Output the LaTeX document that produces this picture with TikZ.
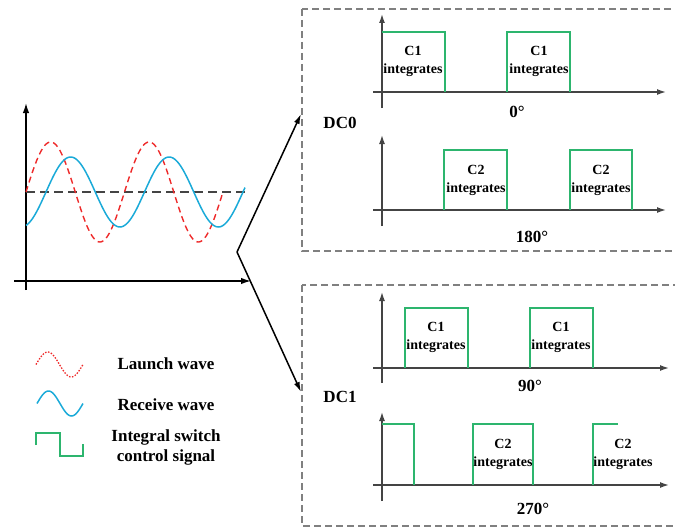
\documentclass[tikz,border=0pt]{standalone}
\usepackage{fontspec}
\setmainfont{Liberation Serif}
\usetikzlibrary{arrows.meta}
\definecolor{lred}{HTML}{EE2A2A}
\definecolor{lblue}{HTML}{1AAAD8}
\definecolor{lgreen}{HTML}{2DB56E}
\definecolor{axgray}{HTML}{444444}
\definecolor{boxgray}{HTML}{808080}
\tikzset{
  axis/.style={line width=1.4pt, axgray, -{Latex[length=9pt,width=6pt]}},
  mainaxis/.style={line width=1.5pt, black, -{Latex[length=10pt,width=6.5pt]}},
  pulse/.style={line width=1.4pt, lgreen},
  framebox/.style={draw=boxgray, line width=1.1pt, dash pattern=on 7pt off 4pt},
  ilabel/.style={font=\bfseries\fontsize{14}{18}\selectfont, align=center, inner sep=0pt},
  blabel/.style={font=\bfseries\fontsize{17}{20}\selectfont, align=center, inner sep=0pt},
  connector/.style={line width=1.5pt, black, -{Latex[length=10pt,width=6pt]}},
}
\begin{document}
\begin{tikzpicture}[x=1pt,y=-1pt]
\useasboundingbox (0,0) rectangle (675,527);

% ---------- left graph ----------
\draw[mainaxis] (26,290) -- (26,103);
\draw[mainaxis] (14,281) -- (251,281);
\draw[axgray, line width=2pt, dash pattern=on 9pt off 5pt] (26,192) -- (245,192);
\draw[lred, line width=1.4pt, dash pattern=on 6pt off 4pt]
  plot[domain=26:223, samples=150, smooth] (\x, {192-50*sin((\x-26)/98.5*360)});
\draw[lblue, line width=1.5pt]
  plot[domain=26:245, samples=150, smooth] (\x, {192-35*sin((\x-46)/98.5*360)});

% ---------- connectors ----------
\coordinate (v) at (237,252);
\coordinate (t0) at (301,114);
\coordinate (t1) at (301,392);
\draw[connector] (v) -- (t0);
\draw[connector] (v) -- (t1);

% ---------- legend ----------
\draw[lred, line width=1.3pt, dash pattern=on 1.5pt off 1.5pt]
  plot[domain=36:83, samples=60, smooth] (\x, {364.5-12.5*sin((\x-36)/47*360)});
\draw[lblue, line width=1.5pt]
  plot[domain=37:83, samples=60, smooth] (\x, {403.5-12.5*sin((\x-37)/46*360)});
\draw[pulse] (36,445) -- (36,433) -- (60,433) -- (60,456) -- (83,456) -- (83,444);
\node[blabel] (lg1) at (166,364) {Launch wave};
\node[blabel] (lg2) at (166,405) {Receive wave};
\node[blabel] (lg3) at (166,447) {Integral switch\\control signal};

% ---------- DC0 box ----------
\draw[framebox] (302,9) rectangle (690,251);
\node[blabel] (dc0) at (340,123) {DC0};
% 0 degree
\draw[axis] (382,108) -- (382,14);
\draw[axis] (373,92) -- (666,92);
\draw[pulse] (382,32) -- (445,32) -- (445,92);
\draw[pulse] (507,92) -- (507,32) -- (570,32) -- (570,92);
\node[ilabel] (a1) at (413,61) {C1\\integrates};
\node[ilabel] (a2) at (539,61) {C1\\integrates};
\node[blabel] (p0) at (517,112) {0°};
% 180 degree
\draw[axis] (382,226) -- (382,135);
\draw[axis] (373,210) -- (666,210);
\draw[pulse] (444,210) -- (444,150) -- (507,150) -- (507,210);
\draw[pulse] (570,210) -- (570,150) -- (632,150) -- (632,210);
\node[ilabel] (b1) at (476,180) {C2\\integrates};
\node[ilabel] (b2) at (601,180) {C2\\integrates};
\node[blabel] (p180) at (532,237) {180°};

% ---------- DC1 box ----------
\draw[framebox] (302,285) rectangle (690,526);
\node[blabel] (dc1) at (340,397) {DC1};
% 90 degree
\draw[axis] (382,383) -- (382,292);
\draw[axis] (373,368) -- (669,368);
\draw[pulse] (405,368) -- (405,308) -- (468,308) -- (468,368);
\draw[pulse] (530,368) -- (530,308) -- (593,308) -- (593,368);
\node[ilabel] (c1) at (436,337) {C1\\integrates};
\node[ilabel] (c2) at (561,337) {C1\\integrates};
\node[blabel] (p90) at (530,386) {90°};
% 270 degree
\draw[axis] (382,501) -- (382,412);
\draw[axis] (373,485) -- (669,485);
\draw[pulse] (382,424) -- (414,424) -- (414,485);
\draw[pulse] (473,485) -- (473,424) -- (533,424) -- (533,485);
\draw[pulse] (593,485) -- (593,424) -- (618,424);
\node[ilabel] (d1) at (503,454) {C2\\integrates};
\node[ilabel] (d2) at (623,454) {C2\\integrates};
\node[blabel] (p270) at (533,509) {270°};
\end{tikzpicture}
\end{document}
